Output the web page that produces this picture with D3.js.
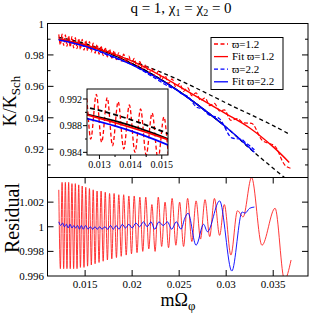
<!DOCTYPE html>
<html>
<head>
<meta charset="utf-8">
<script src="https://cdn.jsdelivr.net/npm/d3@7"></script>
<style>
  body { margin: 0; background: #fff; }
  svg { display: block; font-family: "Liberation Serif", "Times New Roman", serif; }
</style>
</head>
<body>
<svg id="chart" width="311" height="315"></svg>
<script>
// tick values
const xTicks = [0.015, 0.02, 0.025, 0.03, 0.035];
const topTicks = [1, 0.98, 0.96, 0.94, 0.92];
const topMinor = [0.99, 0.97, 0.95, 0.93, 0.91];
const resTicks = [1.002, 1, 0.998, 0.996];
const insetXTicks = [0.013, 0.014, 0.015];
const insetXMinor = [0.0135, 0.0145];
const insetYTicks = [0.992, 0.988, 0.984];
const insetYMinor = [0.990, 0.986];

// K/KSch curves, [mΩφ, value]
const blackDash = [[0.0122, 0.9912], [0.0152, 0.9868], [0.02, 0.9762], [0.025, 0.964],
  [0.03, 0.9494], [0.0325, 0.9423], [0.035, 0.935], [0.0367, 0.9296]];
const blackLower = [[0.0122, 0.9901], [0.0152, 0.986], [0.02, 0.9745], [0.025, 0.9568],
  [0.0297, 0.9355], [0.0325, 0.9205], [0.0362, 0.902]];
const redFit = [[0.0122, 0.9901], [0.0152, 0.9859], [0.02, 0.976], [0.025, 0.96],
  [0.03, 0.9425], [0.0325, 0.9335], [0.035, 0.9215], [0.0367, 0.9116]];
const blueFit = [[0.0122, 0.9895], [0.0152, 0.9851], [0.02, 0.9736], [0.025, 0.9566],
  [0.03, 0.934], [0.033, 0.918]];

// data ϖ=1.2 (oscillating)
const redData = [
  [0.0122, 0.9931], [0.01237, 0.9865], [0.01255, 0.9932], [0.01272, 0.986], [0.0129, 0.9927],
  [0.01307, 0.9855], [0.01325, 0.9922], [0.01342, 0.985], [0.0136, 0.9916], [0.01378, 0.9845],
  [0.01396, 0.9911], [0.01414, 0.984], [0.01432, 0.9905], [0.0145, 0.9836], [0.01469, 0.9899],
  [0.01488, 0.983], [0.01507, 0.9893], [0.01526, 0.9826], [0.01546, 0.9885], [0.01566, 0.9819],
  [0.01586, 0.9875], [0.01606, 0.9811], [0.01627, 0.9866], [0.01648, 0.9804], [0.0167, 0.9857],
  [0.01692, 0.9796], [0.01714, 0.9847], [0.01737, 0.9787], [0.0176, 0.9837], [0.01784, 0.9779],
  [0.01808, 0.9827], [0.01833, 0.977], [0.01858, 0.9815], [0.01884, 0.976], [0.0191, 0.9805],
  [0.01937, 0.975], [0.01965, 0.9792], [0.01993, 0.974], [0.02022, 0.9778], [0.02052, 0.9722],
  [0.02082, 0.9758], [0.02113, 0.9704], [0.02145, 0.9738], [0.02177, 0.9685], [0.0221, 0.9711],
  [0.02244, 0.9662], [0.02278, 0.9695], [0.02314, 0.9644], [0.0235, 0.9668], [0.02387, 0.9619],
  [0.02425, 0.9647], [0.02465, 0.9596], [0.02505, 0.9618], [0.02547, 0.9568], [0.0259, 0.9592],
  [0.02635, 0.9541], [0.0268, 0.9558], [0.02727, 0.9511], [0.02775, 0.9526], [0.02825, 0.9478],
  [0.02875, 0.9492], [0.0293, 0.9443], [0.0298, 0.945], [0.0305, 0.9384], [0.0312, 0.9395],
  [0.0318, 0.9368], [0.0327, 0.9365], [0.0338, 0.9258], [0.0352, 0.9218], [0.0362, 0.9102],
  [0.0369, 0.9078]];
// data ϖ=2.2
const blueData = [[0.0122, 0.9899], [0.0152, 0.9851], [0.018, 0.9784], [0.02, 0.9737],
  [0.022, 0.9668], [0.0242, 0.9591], [0.0247, 0.958], [0.0252, 0.9555], [0.0256, 0.9546],
  [0.02595, 0.9534], [0.0268, 0.947], [0.0276, 0.9451], [0.028, 0.9426], [0.0293, 0.9393],
  [0.0306, 0.9272], [0.0317, 0.9261], [0.032, 0.9244], [0.0325, 0.9222], [0.033, 0.9196]];

// residuals
const redRes = [
  [0.0122, 1.003], [0.01237, 0.9966], [0.01255, 1.0036], [0.01272, 0.9966], [0.0129, 1.0036],
  [0.01307, 0.9966], [0.01325, 1.0036], [0.01342, 0.9966], [0.0136, 1.0035], [0.01378, 0.9966],
  [0.01396, 1.0035], [0.01414, 0.9966], [0.01432, 1.0034], [0.0145, 0.9967], [0.01469, 1.0033],
  [0.01488, 0.9967], [0.01507, 1.0032], [0.01526, 0.9968], [0.01546, 1.0031], [0.01566, 0.9969],
  [0.01586, 1.003], [0.01606, 0.997], [0.01627, 1.0029], [0.01648, 0.9971], [0.0167, 1.0029],
  [0.01692, 0.9972], [0.01714, 1.0028], [0.01737, 0.9973], [0.0176, 1.0027], [0.01784, 0.9974],
  [0.01808, 1.0027], [0.01833, 0.9975], [0.01858, 1.0026], [0.01884, 0.9976], [0.0191, 1.0026],
  [0.01937, 0.9977], [0.01965, 1.0025], [0.01993, 0.9978], [0.02022, 1.0025], [0.02052, 0.9979],
  [0.02082, 1.0024], [0.02113, 0.998], [0.02145, 1.0024], [0.02177, 0.9982], [0.0221, 1.0018],
  [0.02244, 0.998], [0.02278, 1.0024], [0.02314, 0.9984], [0.0235, 1.002], [0.02387, 0.9983],
  [0.02425, 1.0023], [0.02465, 0.9985], [0.02505, 1.002], [0.02547, 0.9984], [0.0259, 1.0023],
  [0.02635, 0.9988], [0.0268, 1.0021], [0.02727, 0.999], [0.02775, 1.0022], [0.02825, 0.9992],
  [0.02875, 1.0023], [0.0293, 0.9993], [0.0298, 1.0018], [0.0305, 0.9977], [0.0312, 1.0013],
  [0.0318, 1.0008], [0.0327, 1.004], [0.0338, 0.9985], [0.0352, 1.0015], [0.0362, 0.9957],
  [0.0369, 0.9973]];
const blueRes = [
  [0.0122, 1.0004], [0.0124, 1.0001], [0.0126, 1.0003], [0.0128, 1.0], [0.013, 1.0002],
  [0.0132, 0.9999], [0.0134, 1.0002], [0.0136, 0.9999], [0.0138, 1.0001], [0.014, 0.9999],
  [0.0142, 1.0001], [0.0144, 0.9998], [0.0146, 1.0001], [0.0148, 0.9998], [0.01505, 1.0001],
  [0.0153, 0.9998], [0.01555, 1.0], [0.0158, 0.9998], [0.01605, 1.0], [0.0163, 0.9998],
  [0.01655, 1.0], [0.0168, 0.9998], [0.0171, 1.0], [0.0174, 0.9998], [0.0177, 1.0001],
  [0.018, 0.9998], [0.0183, 1.0001], [0.0186, 0.9998], [0.01895, 1.0002], [0.0193, 0.9999],
  [0.01965, 1.0002], [0.02, 0.9999], [0.0204, 1.0003], [0.0208, 1.0], [0.0212, 1.0004],
  [0.0216, 1.0], [0.022, 1.0004], [0.0224, 0.9998], [0.02285, 1.0004], [0.0233, 1.0001],
  [0.02375, 1.0004], [0.0242, 0.9998], [0.0247, 1.0004], [0.0252, 0.9998], [0.0256, 1.0007],
  [0.02595, 1.0011], [0.0268, 0.9985], [0.0276, 1.0002], [0.028, 0.9996], [0.0293, 1.0021],
  [0.0306, 0.9964], [0.0317, 1.0012], [0.032, 1.0011], [0.0325, 1.0015], [0.033, 1.0016]];

// legend entries
const legendLabels = ["ϖ=1.2", "Fit ϖ=1.2", "ϖ=2.2", "Fit ϖ=2.2"];
const legendColors = ["#ff0000", "#ff0000", "#0000ff", "#0000ff"];
const legendDashed = [true, false, true, false];

const svg = d3.select("#chart");
const L = 47.5, R = 308, T = 23.5, MID = 177.5, B = 276;

const x = d3.scaleLinear().domain([0.011, 0.0387]).range([L, R]);
const yTop = d3.scaleLinear().domain([0.902, 1]).range([MID, T]);
const yRes = d3.scaleLinear().domain([0.996, 1.004]).range([B, MID]);

const defs = svg.append("defs");
defs.append("clipPath").attr("id", "clipTop").append("rect")
  .attr("x", L).attr("y", T).attr("width", R - L).attr("height", MID - T);
defs.append("clipPath").attr("id", "clipRes").append("rect")
  .attr("x", L).attr("y", MID).attr("width", R - L).attr("height", B - MID);

function drawLine(g, data, xs, ys, color, width, dash, curve) {
  const line = d3.line().x(d => xs(d[0])).y(d => ys(d[1])).curve(curve || d3.curveMonotoneX);
  g.append("path").datum(data).attr("d", line).attr("fill", "none")
    .attr("stroke", color).attr("stroke-width", width)
    .attr("stroke-dasharray", dash || null);
}

// top panel
const gTop = svg.append("g").attr("clip-path", "url(#clipTop)");
drawLine(gTop, blackDash, x, yTop, "#000", 1.3, "4,3", d3.curveNatural);
drawLine(gTop, blackLower, x, yTop, "#000", 1.3, "4,3", d3.curveNatural);
drawLine(gTop, blackLower.filter(d => d[0] <= 0.0305), x, yTop, "#000", 1.3, null, d3.curveNatural);
drawLine(gTop, redData, x, yTop, "#ff0000", 1.2, "4,2");
drawLine(gTop, blueData, x, yTop, "#0000ff", 1.2, "4,2");
drawLine(gTop, redFit, x, yTop, "#ff0000", 1.4, null, d3.curveNatural);
drawLine(gTop, blueFit, x, yTop, "#0000ff", 1.4, null, d3.curveNatural);

// residual panel
const gRes = svg.append("g").attr("clip-path", "url(#clipRes)");
drawLine(gRes, redRes, x, yRes, "#ff2020", 0.9);
drawLine(gRes, blueRes, x, yRes, "#0000ff", 0.9);

// frames
svg.append("rect").attr("x", L).attr("y", T).attr("width", R - L).attr("height", B - T)
  .attr("fill", "none").attr("stroke", "#000").attr("stroke-width", 1);
svg.append("line").attr("x1", L).attr("x2", R).attr("y1", MID).attr("y2", MID)
  .attr("stroke", "#000").attr("stroke-width", 1);

function yTicksInward(ys, vals, len) {
  vals.forEach(v => {
    svg.append("line").attr("x1", L).attr("x2", L + len).attr("y1", ys(v)).attr("y2", ys(v)).attr("stroke", "#000");
    svg.append("line").attr("x1", R - len).attr("x2", R).attr("y1", ys(v)).attr("y2", ys(v)).attr("stroke", "#000");
  });
}
yTicksInward(yTop, topTicks.filter(v => v < 1), 6);
yTicksInward(yTop, topMinor, 3);
yTicksInward(yRes, resTicks.filter(v => v > 0.996), 6);

xTicks.forEach(v => {
  svg.append("line").attr("x1", x(v)).attr("x2", x(v)).attr("y1", B).attr("y2", B - 6).attr("stroke", "#000");
  svg.append("line").attr("x1", x(v)).attr("x2", x(v)).attr("y1", MID).attr("y2", MID + 6).attr("stroke", "#000");
});

const fmt = d => String(+d.toFixed(4));
svg.append("g").selectAll("text").data(topTicks).join("text")
  .attr("x", 44).attr("y", d => yTop(d) + 4).attr("text-anchor", "end")
  .attr("font-size", 11).text(fmt);
svg.append("g").selectAll("text").data(resTicks).join("text")
  .attr("x", 44).attr("y", d => yRes(d) + 4).attr("text-anchor", "end")
  .attr("font-size", 11).text(fmt);
svg.append("g").selectAll("text").data(xTicks).join("text")
  .attr("x", d => x(d)).attr("y", 288).attr("text-anchor", "middle")
  .attr("font-size", 11).text(fmt);

// axis titles
const yl = svg.append("text").attr("transform", "translate(16,101) rotate(-90)")
  .attr("text-anchor", "middle").attr("font-size", 18);
yl.append("tspan").text("K/K");
yl.append("tspan").attr("font-size", 13).attr("dy", 4).text("Sch");

svg.append("text").attr("transform", "translate(18.5,218) rotate(-90)")
  .attr("text-anchor", "middle").attr("font-size", 20).text("Residual");

const xl = svg.append("text").attr("x", 178).attr("y", 306)
  .attr("text-anchor", "middle").attr("font-size", 18);
xl.append("tspan").text("mΩ");
xl.append("tspan").attr("font-size", 13).attr("dy", 4).text("φ");

const title = svg.append("text").attr("x", 181).attr("y", 13)
  .attr("text-anchor", "middle").attr("font-size", 15);
title.append("tspan").text("q = 1, χ");
title.append("tspan").attr("font-size", 10).attr("dy", 3).text("1");
title.append("tspan").attr("dy", -3).text(" = χ");
title.append("tspan").attr("font-size", 10).attr("dy", 3).text("2");
title.append("tspan").attr("dy", -3).text(" = 0");

// legend
const lg = svg.append("g");
lg.append("rect").attr("x", 211).attr("y", 37.5).attr("width", 72).attr("height", 52)
  .attr("fill", "#fff").attr("stroke", "#000").attr("stroke-width", 1);
legendLabels.forEach((lab, i) => {
  const yy = 44 + i * 12.6;
  lg.append("line").attr("x1", 214).attr("x2", 228).attr("y1", yy).attr("y2", yy)
    .attr("stroke", legendColors[i]).attr("stroke-width", 1.3)
    .attr("stroke-dasharray", legendDashed[i] ? "4,2.5" : null);
  lg.append("text").attr("x", 232).attr("y", yy + 3.5).attr("font-size", 11).text(lab);
});

// inset
const IL = 87, IR = 168, IT = 89, IB = 155;
const xi = d3.scaleLinear().domain([0.0126, 0.0152]).range([IL, IR]);
const yi = d3.scaleLinear().domain([0.9836, 0.9935]).range([IB, IT]);
defs.append("clipPath").attr("id", "clipInset").append("rect")
  .attr("x", IL).attr("y", IT).attr("width", IR - IL).attr("height", IB - IT);
svg.append("rect").attr("x", IL).attr("y", IT).attr("width", IR - IL).attr("height", IB - IT)
  .attr("fill", "#fff");
const gIn = svg.append("g").attr("clip-path", "url(#clipInset)");
drawLine(gIn, redData, xi, yi, "#ff0000", 1.3, "4,2.5");
drawLine(gIn, blackDash, xi, yi, "#000", 1.8, "5,3", d3.curveNatural);
drawLine(gIn, blackLower, xi, yi, "#000", 1.8, null, d3.curveNatural);
drawLine(gIn, redFit, xi, yi, "#ff0000", 1.8, null, d3.curveNatural);
drawLine(gIn, blueFit, xi, yi, "#0000ff", 1.8, null, d3.curveNatural);
svg.append("rect").attr("x", IL).attr("y", IT).attr("width", IR - IL).attr("height", IB - IT)
  .attr("fill", "none").attr("stroke", "#000").attr("stroke-width", 1);

insetYTicks.concat(insetYMinor).forEach((v, i) => {
  const len = i < insetYTicks.length ? 4 : 2;
  svg.append("line").attr("x1", IL - len).attr("x2", IL).attr("y1", yi(v)).attr("y2", yi(v)).attr("stroke", "#000");
});
insetXTicks.concat(insetXMinor).forEach((v, i) => {
  const len = i < insetXTicks.length ? 4 : 2;
  svg.append("line").attr("x1", xi(v)).attr("x2", xi(v)).attr("y1", IB).attr("y2", IB + len).attr("stroke", "#000");
});
svg.append("g").selectAll("text").data(insetYTicks).join("text")
  .attr("x", IL - 5).attr("y", d => yi(d) + 3.5).attr("text-anchor", "end")
  .attr("font-size", 10).text(fmt);
svg.append("g").selectAll("text").data(insetXTicks).join("text")
  .attr("x", d => xi(d)).attr("y", IB + 13).attr("text-anchor", "middle")
  .attr("font-size", 10).text(fmt);
</script>
</body>
</html>
